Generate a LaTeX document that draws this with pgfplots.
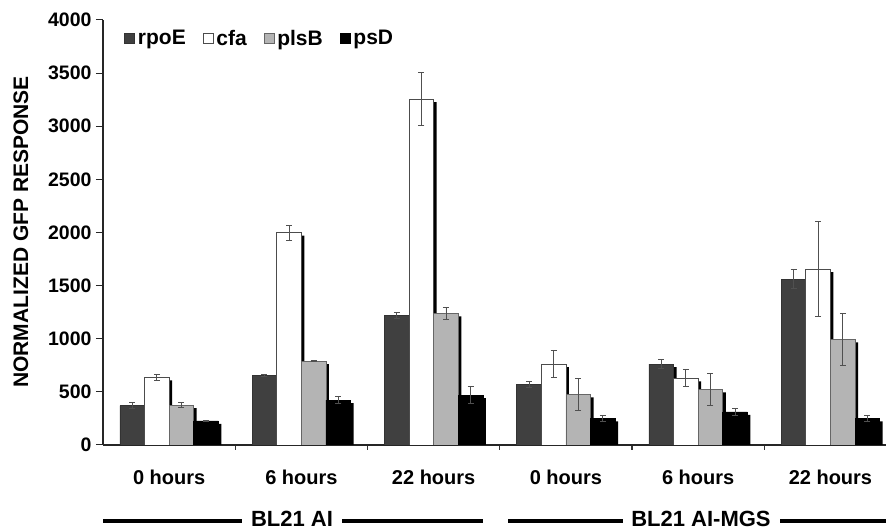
\documentclass[border=0pt]{standalone}
\usepackage{fontspec}
\setmainfont{Liberation Sans}
\usepackage{pgfplots}
\pgfplotsset{compat=1.18}

\definecolor{cRpo}{HTML}{404040}
\definecolor{cPls}{HTML}{B4B4B4}
\definecolor{cErr}{HTML}{505050}

% columns: group index, mean, error
\pgfplotstableread{
x v e
0 370 30
1 656 8
2 1217 30
3 568 30
4 762 45
5 1562 90
}\rpoE
\pgfplotstableread{
x v e
0 637 25
1 1998 70
2 3256 250
3 762 130
4 627 80
5 1656 450
}\cfa
\pgfplotstableread{
x v e
0 376 25
1 790 3
2 1239 60
3 477 150
4 524 150
5 995 245
}\plsB
\pgfplotstableread{
x v e
0 226 8
1 423 30
2 470 80
3 251 28
4 311 35
5 251 25
}\psD

\begin{document}
\begin{tikzpicture}
\useasboundingbox (0,0) rectangle (886pt,532pt);
\begin{axis}[
  at={(103pt,87pt)}, anchor=south west,
  scale only axis, width=783pt, height=425pt,
  ybar, bar width=0.186,
  xmin=-0.5, xmax=5.42, ymin=0, ymax=4000,
  axis x line=bottom, axis y line=left,
  axis line style={-, line width=1.2pt, draw=black!85},
  ytick={0,500,...,4000},
  xtick={0,...,5},
  xticklabels={0 hours,6 hours,22 hours,0 hours,6 hours,22 hours},
  minor xtick={0.5,1.5,2.5,3.5,4.5},
  major x tick style={draw=none},
  minor x tick style={draw=black!80, line width=1.2pt},
  minor tick length=5pt,
  major tick length=7pt,
  tick align=outside,
  y tick style={draw=black!85, line width=1pt},
  /pgf/number format/assume math mode=true,
  /pgf/number format/set thousands separator={},
  yticklabel style={font=\fontsize{19.5}{19.5}\selectfont\bfseries, xshift=-1pt},
  xticklabel style={font=\fontsize{20}{20}\selectfont\bfseries, yshift=-14pt},
  error bars/error bar style={draw=cErr, line width=0.9pt},
  error bars/error mark options={rotate=90, mark size=3pt, draw=cErr, line width=0.9pt},
  legend style={at={(0.027,0.982)}, anchor=north west, draw=none, fill=none,
    font=\fontsize{21}{21}\selectfont\bfseries, legend columns=4,
    /tikz/every odd column/.style={column sep=1pt},
    /tikz/every even column/.style={column sep=15pt},
    inner sep=0pt},
  legend image code/.code={\draw[#1, bar shift=0pt, line width=0.6pt] (0pt,-4.8pt) rectangle (10pt,4.8pt);},
]
% rpoE
\addplot[fill=black, draw=none, bar shift=-0.279, xshift=3pt, yshift=-3pt, forget plot]
  table[x=x, y=v] {\rpoE};
\addplot[fill=cRpo, draw=black!80, line width=0.6pt, bar shift=-0.279,
  error bars/.cd, y dir=both, y explicit]
  table[x=x, y=v, y error=e] {\rpoE};
% cfa
\addplot[fill=black, draw=none, bar shift=-0.093, xshift=3pt, yshift=-3pt, forget plot]
  table[x=x, y=v] {\cfa};
\addplot[fill=white, draw=black!70, line width=0.8pt, bar shift=-0.093,
  error bars/.cd, y dir=both, y explicit]
  table[x=x, y=v, y error=e] {\cfa};
% plsB
\addplot[fill=black, draw=none, bar shift=0.093, xshift=3pt, yshift=-3pt, forget plot]
  table[x=x, y=v] {\plsB};
\addplot[fill=cPls, draw=black!60, line width=0.6pt, bar shift=0.093,
  error bars/.cd, y dir=both, y explicit]
  table[x=x, y=v, y error=e] {\plsB};
% psD
\addplot[fill=black, draw=none, bar shift=0.279, xshift=3pt, yshift=-3pt, forget plot]
  table[x=x, y=v] {\psD};
\addplot[fill=black, draw=black, line width=0.6pt, bar shift=0.279,
  error bars/.cd, y dir=both, y explicit]
  table[x=x, y=v, y error=e] {\psD};
\legend{rpoE, cfa, plsB, psD}
\end{axis}

\node[rotate=90, font=\fontsize{21}{21}\selectfont\bfseries] at (21pt,300pt) {NORMALIZED GFP RESPONSE};

% strain brackets under the groups
\begin{scope}[line width=4pt]
\draw (103pt,11pt) -- (242pt,11pt);
\draw (342pt,11pt) -- (483pt,11pt);
\draw (508pt,11pt) -- (623pt,11pt);
\draw (780pt,11pt) -- (886pt,11pt);
\end{scope}
\node[font=\fontsize{22}{22}\selectfont\bfseries, inner sep=0pt] at (292pt,13pt) {BL21 AI};
\node[font=\fontsize{22}{22}\selectfont\bfseries, inner sep=0pt] at (701pt,13pt) {BL21 AI-MGS};
\end{tikzpicture}
\end{document}
